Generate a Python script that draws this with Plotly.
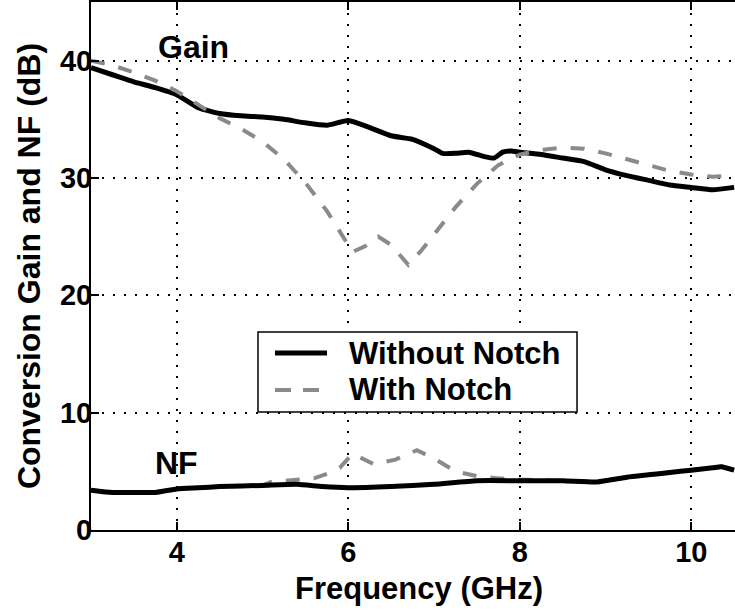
import plotly.graph_objects as go

# Conversion gain, with and without the notch filter (dB)
freq_gain_without = [3.0, 3.25, 3.5, 3.75, 4.0, 4.25, 4.5, 4.75, 5.0, 5.25, 5.5, 5.75,
                     6.0, 6.25, 6.5, 6.75, 7.0, 7.1, 7.25, 7.4, 7.6, 7.7, 7.8, 7.9,
                     8.0, 8.25, 8.5, 8.75, 9.0, 9.25, 9.5, 9.75, 10.0, 10.25, 10.5]
gain_without = [39.4, 38.8, 38.2, 37.7, 37.1, 36.0, 35.5, 35.3, 35.2, 35.0, 34.7, 34.5,
                34.9, 34.3, 33.6, 33.3, 32.5, 32.1, 32.1, 32.2, 31.8, 31.7, 32.2, 32.3,
                32.2, 32.0, 31.7, 31.4, 30.7, 30.2, 29.8, 29.4, 29.2, 29.0, 29.2]

freq_gain_with = [3.0, 3.25, 3.5, 3.75, 4.0, 4.25, 4.5, 4.75, 5.0, 5.25, 5.5, 5.75,
                  5.9, 6.05, 6.2, 6.35, 6.5, 6.7, 6.85, 7.0, 7.25, 7.5, 7.75, 8.0,
                  8.25, 8.5, 8.75, 9.0, 9.25, 9.5, 9.75, 10.0, 10.25, 10.5]
gain_with = [40.0, 39.6, 39.0, 38.3, 37.4, 36.2, 35.1, 34.2, 33.1, 31.6, 29.6, 27.2,
             25.5, 23.7, 24.2, 25.0, 24.3, 22.6, 23.8, 25.2, 27.5, 29.5, 31.1, 32.0,
             32.4, 32.6, 32.5, 32.1, 31.6, 31.1, 30.6, 30.3, 30.1, 30.2]

# Noise figure, with and without the notch filter (dB)
freq_nf_without = [3.0, 3.25, 3.5, 3.75, 4.0, 4.25, 4.5, 5.0, 5.4, 5.7, 6.0, 6.5,
                   7.0, 7.5, 8.0, 8.5, 8.9, 9.25, 9.5, 9.75, 10.0, 10.25, 10.35, 10.5]
nf_without = [3.4, 3.2, 3.2, 3.2, 3.5, 3.6, 3.7, 3.8, 3.9, 3.7, 3.6, 3.7,
              3.9, 4.2, 4.2, 4.2, 4.1, 4.5, 4.7, 4.9, 5.1, 5.3, 5.4, 5.1]

freq_nf_with = [3.0, 3.25, 3.5, 3.75, 4.0, 4.25, 4.5, 5.0, 5.1, 5.43, 5.6, 5.76,
                5.9, 6.05, 6.3, 6.55, 6.8, 7.0, 7.25, 7.5, 7.75, 8.0, 8.5, 8.9,
                9.25, 9.5, 9.75, 10.0, 10.25, 10.35, 10.5]
nf_with = [3.4, 3.2, 3.2, 3.2, 3.5, 3.6, 3.7, 3.8, 4.1, 4.3, 4.4, 4.8,
           5.3, 6.5, 5.6, 6.0, 6.8, 6.1, 5.0, 4.6, 4.4, 4.3, 4.2, 4.1,
           4.5, 4.7, 4.9, 5.1, 5.3, 5.4, 5.1]

x_ticks = [4, 6, 8, 10]
y_ticks = [0, 10, 20, 30, 40]
legend_labels = ["Without Notch", "With Notch"]

FONT = "Liberation Sans, Arial, Helvetica, sans-serif"
BLACK = "black"
GRAY = "#8a8a8a"
solid = dict(color=BLACK, width=5, shape="spline", smoothing=0.5)
dashed = dict(color=GRAY, width=4, dash="14px,14px")


def bold(size):
    return dict(family=FONT, size=size, color=BLACK, weight="bold")


fig = go.Figure()
fig.add_trace(go.Scatter(x=freq_gain_without, y=gain_without, mode="lines",
                         line=solid, name=legend_labels[0]))
fig.add_trace(go.Scatter(x=freq_nf_with, y=nf_with, mode="lines",
                         line=dashed, name=legend_labels[1]))
fig.add_trace(go.Scatter(x=freq_nf_without, y=nf_without, mode="lines",
                         line=solid, name=legend_labels[0]))
fig.add_trace(go.Scatter(x=freq_gain_with, y=gain_with, mode="lines",
                         line=dashed, name=legend_labels[1]))

# curve labels
fig.add_annotation(x=4.19, y=41.2, text="Gain", showarrow=False, font=bold(32))
fig.add_annotation(x=4.0, y=5.7, text="NF", showarrow=False, font=bold(32))

# x-axis caption
fig.add_annotation(xref="paper", yref="paper", x=0.509, y=-0.111, yanchor="middle",
                   text="Frequency (GHz)", showarrow=False, font=bold(31))

# boxed key in the middle of the plot area
box = dict(x0=0.2593, x1=0.7547, y0=0.2235, y1=0.375)
fig.add_shape(type="rect", xref="paper", yref="paper", layer="above",
              fillcolor="white", line=dict(color=BLACK, width=1.5), **box)
rows_y = [0.3352, 0.2652]
row_styles = [dict(color=BLACK, width=5), dict(color=GRAY, width=4, dash="16px,12px")]
for label, ry, st in zip(legend_labels, rows_y, row_styles):
    fig.add_shape(type="line", xref="paper", yref="paper", layer="above",
                  x0=0.2857, x1=0.3665, y0=ry, y1=ry, line=st)
    fig.add_annotation(xref="paper", yref="paper", x=0.3975, y=ry, xanchor="left",
                       yanchor="middle", text=label, showarrow=False, font=bold(31))

axis_common = dict(
    showline=True, linecolor=BLACK, linewidth=2,
    ticks="inside", ticklen=8, tickwidth=2, tickcolor=BLACK,
    showgrid=True, gridcolor=BLACK, gridwidth=1.5, griddash="2px,9px",
    zeroline=False,
    tickfont=bold(29),
)

fig.update_xaxes(range=[3, 10.51], tickvals=x_ticks, mirror="ticks",
                 ticklabelstandoff=-5, **axis_common)
fig.update_yaxes(
    range=[0, 45], tickvals=y_ticks, ticklabelstandoff=-9,
    title=dict(text="Conversion Gain and NF (dB)", standoff=10, font=bold(32)),
    **axis_common,
)

fig.update_layout(
    width=735, height=615,
    margin=dict(l=91, r=0, t=2, b=85),
    paper_bgcolor="white", plot_bgcolor="white",
    showlegend=False,
)

fig.write_html("out.html")
